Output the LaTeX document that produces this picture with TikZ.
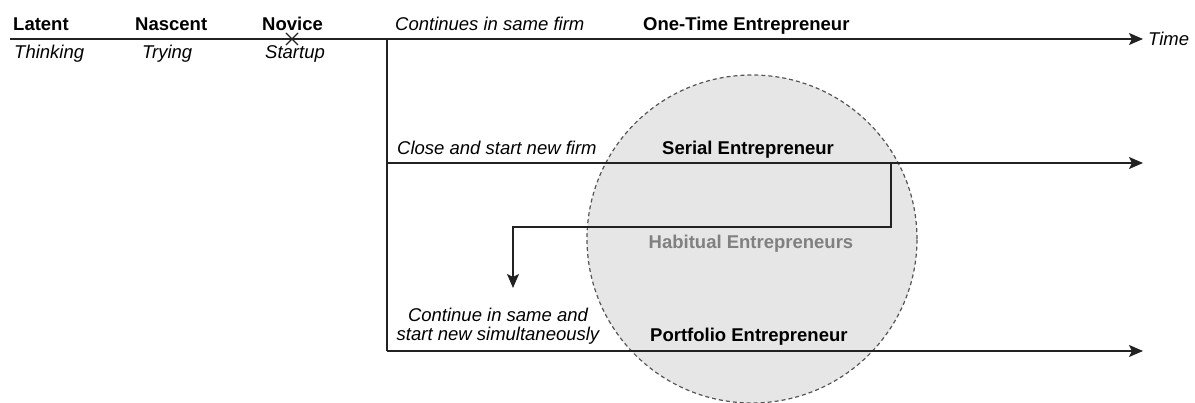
\documentclass[tikz,border=0pt]{standalone}
\usepackage{fontspec}
\setmainfont{Liberation Sans}
\usetikzlibrary{arrows.meta,shapes.geometric}

\definecolor{linegray}{HTML}{222222}
\definecolor{circlefill}{HTML}{E6E6E6}
\definecolor{circleedge}{HTML}{555555}
\definecolor{habitgray}{HTML}{808080}

\tikzset{
  stage/.style={font=\fontsize{18.5}{21}\selectfont\bfseries, inner sep=0pt, anchor=base west},
  phase/.style={font=\fontsize{18.5}{21}\selectfont\itshape, inner sep=0pt, anchor=base west},
  flow/.style={draw=linegray, line width=1.3pt, -{Stealth[length=14pt,width=12pt,inset=3pt]}},
  plain/.style={draw=linegray, line width=1.3pt},
  habit/.style={ellipse, draw=circleedge, fill=circlefill, line width=1.2pt,
    dash pattern=on 4pt off 3pt, minimum width=330pt, minimum height=328pt, inner sep=0pt}
}

\begin{document}
\begin{tikzpicture}[x=1pt,y=-1pt]
\useasboundingbox (0,0) rectangle (1195,403);

% group of habitual entrepreneurs (drawn first, lines pass over it)
\node[habit] (circ) at (752,239) {};
\node[font=\fontsize{18.5}{21}\selectfont\bfseries, text=habitgray, inner sep=0pt, anchor=base] (habt) at (751,249) {Habitual Entrepreneurs};

% key points of the time lines
\coordinate (t0) at (10,39);
\coordinate (tend) at (1143,39);
\coordinate (split) at (387,39);
\coordinate (m0) at (387,163);
\coordinate (mend) at (1143,163);
\coordinate (b0) at (387,351);
\coordinate (bend) at (1143,351);
\coordinate (s0) at (891,163);
\coordinate (s1) at (891,227);
\coordinate (s2) at (513,227);
\coordinate (s3) at (513,288);
\coordinate (x0) at (292,39);

% main time line
\draw[flow] (t0) -- (tend);
\node[phase, anchor=west] (time) at (1148,39) {Time};

% start-up mark
\draw[draw=linegray, line width=1.2pt] ([shift={(-6,-6)}]x0) -- ([shift={(6,6)}]x0)
  ([shift={(-6,6)}]x0) -- ([shift={(6,-6)}]x0);

% branches
\draw[plain] (split) -- (b0);
\draw[flow] (m0) -- (mend);
\draw[flow] (b0) -- (bend);
\draw[flow] (s0) -- (s1) -- (s2) -- (s3);

% stages before the start-up
\node[stage] (latent) at (13,31) {Latent};
\node[stage] (nascent) at (135,31) {Nascent};
\node[stage] (novice) at (262,31) {Novice};
\node[phase] (thinking) at (14,59) {Thinking};
\node[phase] (trying) at (142,59) {Trying};
\node[phase] (startup) at (265,59) {Startup};

% branch labels
\node[phase] (cont) at (395,31) {Continues in same firm};
\node[stage] (onetime) at (643,31) {One-Time Entrepreneur};
\node[phase] (close) at (397,155) {Close and start new firm};
\node[stage] (serial) at (662,155) {Serial Entrepreneur};
\node[phase, anchor=base] (simA) at (498,322) {Continue in same and};
\node[phase, anchor=base] (simB) at (498,341) {start new simultaneously};
\node[stage] (portfolio) at (650,342) {Portfolio Entrepreneur};
\end{tikzpicture}
\end{document}
